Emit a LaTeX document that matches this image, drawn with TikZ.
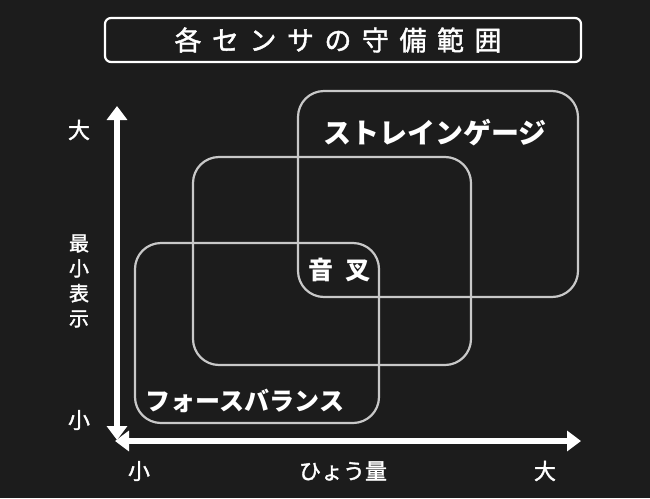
\documentclass[tikz,border=0pt]{standalone}
\usepackage{fontspec}
\newfontfamily\cjk{Noto Sans CJK JP}
\newfontfamily\cjkm[FakeBold=1.6]{Noto Sans CJK JP}
\usetikzlibrary{arrows.meta}
\definecolor{bg}{HTML}{1C1C1C}
\definecolor{boxline}{HTML}{C8C8C8}
\begin{document}
\begin{tikzpicture}[x=1pt,y=-1pt,
  region/.style={draw=boxline,line width=2.2pt,rounded corners=26pt},
  lbl/.style={text=white,font=\cjk\bfseries\fontsize{26}{30}\selectfont,inner sep=0pt},
  axl/.style={text=white,font=\cjkm\fontsize{22}{24}\selectfont,inner sep=0pt},
  axis/.style={draw=white,line width=6pt,{Triangle[width=20pt,length=14pt]}-{Triangle[width=20pt,length=14pt]}}]
\fill[bg] (0,0) rectangle (650,498);
\useasboundingbox (0,0) rectangle (650,498);
% title
\node[draw=white,line width=2.2pt,rounded corners=6pt,minimum width=476pt,minimum height=44pt,inner sep=0pt] (titlebox) at (343,40) {};
\node[text=white,font=\cjkm\fontsize{27}{30}\selectfont,inner sep=0pt] (title) at (338,40) {各\hspace{10.5pt}セ\hspace{10.5pt}ン\hspace{10.5pt}サ\hspace{10.5pt}の\hspace{10.5pt}守\hspace{10.5pt}備\hspace{10.5pt}範\hspace{10.5pt}囲};
% regions
\draw[region] (298,91) rectangle (578,297);
\draw[region] (193,157) rectangle (471,365);
\draw[region] (135,243) rectangle (379,423);
\node[lbl,font=\cjk\bfseries\fontsize{28}{30}\selectfont] (sg) at (435,133) {ストレインゲージ};
\node[lbl,font=\cjk\bfseries\fontsize{25}{28}\selectfont] (tf) at (339,270) {音\hspace{12pt}叉};
\node[lbl,font=\cjk\bfseries\fontsize{25}{28}\selectfont] (fb) at (245,401) {フォースバランス};
% axes
\coordinate (vtop) at (117,106);
\coordinate (vbot) at (117,440);
\coordinate (hl) at (115,441);
\coordinate (hr) at (581,441);
\draw[axis] (vtop) -- (vbot);
\draw[axis] (hl) -- (hr);
\node[axl] (ybig) at (79,130) {大};
\node[axl] (ysmall) at (79,420) {小};
\node[axl,font=\cjkm\fontsize{20}{25}\selectfont,align=center] (ylab) at (79,281) {最\\小\\表\\示};
\node[axl] (xsmall) at (139,471) {小};
\node[axl] (xlab) at (343,471) {ひょう量};
\node[axl] (xbig) at (545,471) {大};
\end{tikzpicture}
\end{document}
